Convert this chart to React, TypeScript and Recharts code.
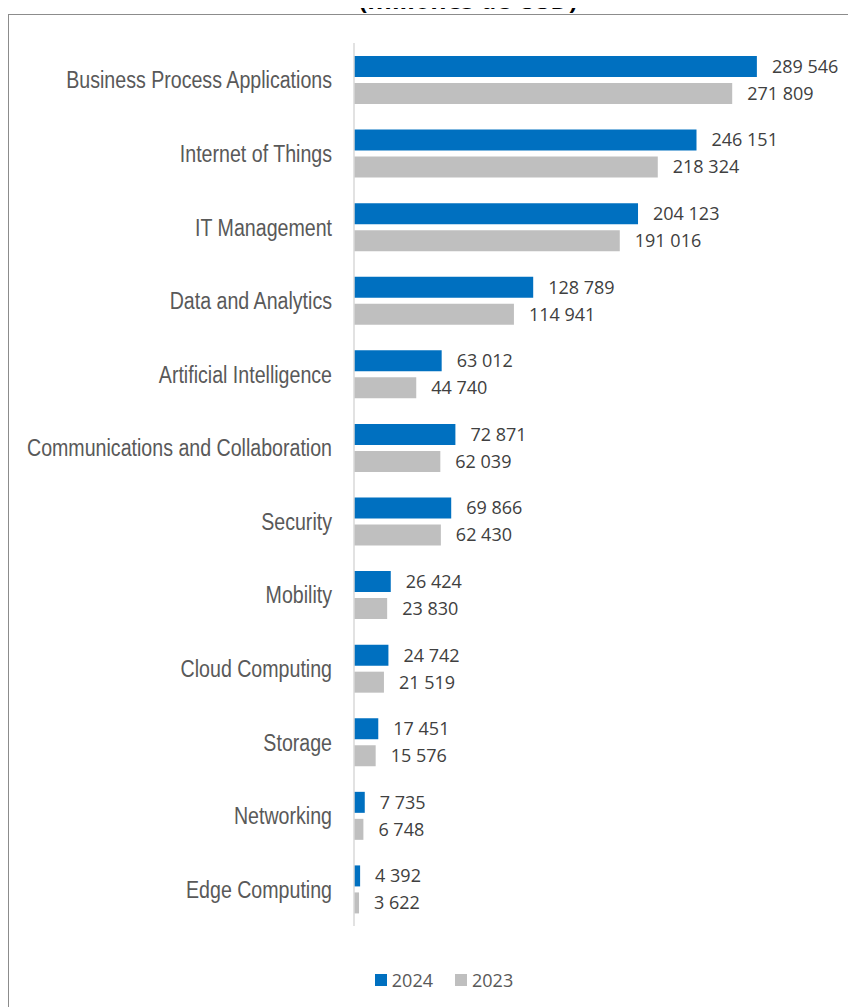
import React from 'react';
import { BarChart, Bar, XAxis, YAxis, LabelList } from 'recharts';

const categories = [
  'Business Process Applications',
  'Internet of Things',
  'IT Management',
  'Data and Analytics',
  'Artificial Intelligence',
  'Communications and Collaboration',
  'Security',
  'Mobility',
  'Cloud Computing',
  'Storage',
  'Networking',
  'Edge Computing',
];
const values2024 = [289546, 246151, 204123, 128789, 63012, 72871, 69866, 26424, 24742, 17451, 7735, 4392];
const values2023 = [271809, 218324, 191016, 114941, 44740, 62039, 62430, 23830, 21519, 15576, 6748, 3622];
const seriesNames = ['2024', '2023'];
const seriesColors = ['#0070C0', '#BFBFBF'];

const data = categories.map((c, i) => ({ name: c, v2024: values2024[i], v2023: values2023[i] }));

const fmt = (v: any) => String(v).replace(/\B(?=(\d{3})+(?!\d))/g, ' ');

const CatTick = (props: any) => {
  const { x, y, payload } = props;
  return (
    <g transform={`translate(${x},${y}) scale(1,1.22)`}>
      <text
        x={0}
        y={0}
        dy="0.36em"
        textAnchor="end"
        fill="#595959"
        fontFamily="'Liberation Sans', Arial, sans-serif"
        fontSize={19.6}
      >
        {payload.value}
      </text>
    </g>
  );
};

export default function App() {
  return (
    <div style={{ position: 'relative', marginTop: -8, width: 848, height: 1007, overflow: 'hidden', background: '#fff' }}>
      <div
        style={{
          position: 'absolute',
          top: 14,
          left: 0,
          width: 900,
          height: 1100,
          border: '1px solid #8c8c8c',
          boxSizing: 'border-box',
        }}
      />
      <div
        style={{
          position: 'absolute',
          top: -13,
          left: 0,
          width: 920,
          textAlign: 'center',
          fontFamily: "'Open Sans', sans-serif",
          fontWeight: 700,
          fontSize: 25,
          lineHeight: '25px',
          color: '#000',
          whiteSpace: 'nowrap',
        }}
      >
        (millones de USD)
      </div>
      <div style={{ position: 'absolute', top: 0, left: 0 }}>
        <BarChart
          width={848}
          height={1007}
          data={data}
          layout="vertical"
          margin={{ top: 43, right: 15, bottom: 81, left: 0 }}
          barSize={21}
          barGap={6}
        >
          <XAxis type="number" domain={[0, 350000]} hide />
          <YAxis
            type="category"
            dataKey="name"
            width={346}
            axisLine={{ stroke: '#D9D9D9', strokeWidth: 1.5 }}
            tickLine={false}
            tickSize={0}
            tickMargin={22}
            tick={<CatTick />}
            interval={0}
          />
          <Bar dataKey="v2024" name="2024" fill={seriesColors[0]} isAnimationActive={false}>
            <LabelList
              dataKey="v2024"
              position="right"
              offset={15}
              formatter={fmt}
              fill="#404040"
              fontFamily="'Open Sans', sans-serif"
              fontSize={18}
            />
          </Bar>
          <Bar dataKey="v2023" name="2023" fill={seriesColors[1]} isAnimationActive={false}>
            <LabelList
              dataKey="v2023"
              position="right"
              offset={15}
              formatter={fmt}
              fill="#404040"
              fontFamily="'Open Sans', sans-serif"
              fontSize={18}
            />
          </Bar>
        </BarChart>
      </div>
      <div
        style={{
          position: 'absolute',
          top: 967,
          left: 0,
          width: 872,
          display: 'flex',
          justifyContent: 'center',
          alignItems: 'center',
          fontFamily: "'Open Sans', sans-serif",
          fontSize: 18,
          lineHeight: '26px',
          color: '#595959',
        }}
      >
        {seriesNames.map((n, i) => (
          <div key={n} style={{ display: 'flex', alignItems: 'center', marginRight: i === 0 ? 22 : 0 }}>
            <span style={{ display: 'inline-block', width: 12, height: 12, background: seriesColors[i], marginRight: 5 }} />
            <span>{n}</span>
          </div>
        ))}
      </div>
    </div>
  );
}
